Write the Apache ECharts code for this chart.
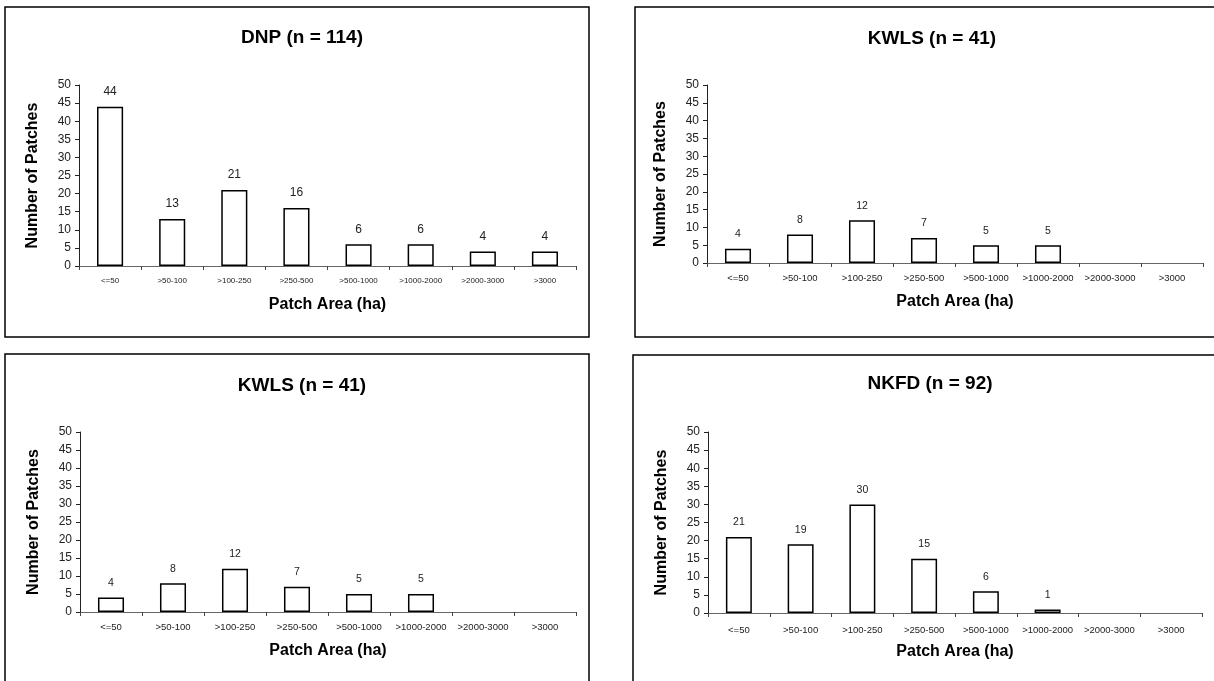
<!DOCTYPE html>
<html>
<head>
<meta charset="utf-8">
<script src="https://cdn.jsdelivr.net/npm/echarts@6/dist/echarts.min.js"></script>
<style>
html,body{margin:0;padding:0;background:#fff;}
#c{width:1214px;height:681px;}
</style>
</head>
<body>
<div id="c"></div>
<script>
// ---- data ----
const categories = ["<=50", ">50-100", ">100-250", ">250-500", ">500-1000", ">1000-2000", ">2000-3000", ">3000"];
const dnpValues  = [44, 13, 21, 16, 6, 6, 4, 4];
const kwlsValues = [4, 8, 12, 7, 5, 5, 0, 0];
const nkfdValues = [21, 19, 30, 15, 6, 1, 0, 0];
const panelTitles = ["DNP (n = 114)", "KWLS (n = 41)", "KWLS (n = 41)", "NKFD (n = 92)"];
const yTicks = [0, 5, 10, 15, 20, 25, 30, 35, 40, 45, 50];
const xAxisTitle = "Patch Area (ha)";
const yAxisTitle = "Number of Patches";

const panelSeries = [dnpValues, kwlsValues, kwlsValues, nkfdValues];

// ---- layout (pixels) ----
const FONT = "Arial, 'Liberation Sans', Helvetica, sans-serif";
const panels = [
  {box:[5,7,584,330],  grid:{left:79, right:638, top:85,  bottom:415}, titleX:297, titleY:23, catFont:8,   valFont:12,   labMargin:11},
  {box:[635,7,590,330],grid:{left:707,right:11,  top:85,  bottom:418}, titleX:927, titleY:24, catFont:9.5, valFont:10.5, labMargin:10},
  {box:[5,354,584,340],grid:{left:80, right:638, top:432, bottom:69},  titleX:297, titleY:371,catFont:9.5, valFont:10.5, labMargin:10},
  {box:[633,355,590,340],grid:{left:708,right:12,top:432, bottom:68},  titleX:925, titleY:369,catFont:9.5, valFont:10.5, labMargin:12}
];

const chart = echarts.init(document.getElementById('c'), null, {renderer:'canvas'});

const option = {
  backgroundColor:'#ffffff',
  animation:false,
  title: panels.map((p,i)=>({
    text: panelTitles[i],
    left: p.titleX, top: p.titleY,
    textAlign:'center',
    textStyle:{fontFamily:FONT, fontSize:19, fontWeight:'bold', color:'#000'}
  })),
  graphic: panels.map(p=>({
    type:'rect', silent:true, z:-1,
    shape:{x:p.box[0], y:p.box[1], width:p.box[2], height:p.box[3]},
    style:{fill:'none', stroke:'#000', lineWidth:1.5}
  })),
  grid: panels.map(p=>Object.assign({containLabel:false}, p.grid)),
  xAxis: panels.map((p,i)=>({
    type:'category', gridIndex:i, data:categories, boundaryGap:true,
    name:xAxisTitle, nameLocation:'middle', nameGap:31,
    nameTextStyle:{fontFamily:FONT, fontSize:16, fontWeight:'bold', color:'#000'},
    axisLine:{lineStyle:{color:'#666', width:1}},
    axisTick:{show:true, alignWithLabel:false, length:4, lineStyle:{color:'#444'}},
    axisLabel:{fontFamily:FONT, fontSize:p.catFont, color:'#222', margin:p.labMargin, interval:0},
    splitLine:{show:false}
  })),
  yAxis: panels.map((p,i)=>({
    type:'value', gridIndex:i, min:yTicks[0], max:yTicks[yTicks.length-1], interval:yTicks[1]-yTicks[0],
    name:yAxisTitle, nameLocation:'middle', nameGap:38, nameRotate:90,
    nameTextStyle:{fontFamily:FONT, fontSize:16, fontWeight:'bold', color:'#000'},
    axisLine:{show:true, lineStyle:{color:'#222', width:1}},
    axisTick:{show:true, length:4, lineStyle:{color:'#222'}},
    axisLabel:{fontFamily:FONT, fontSize:12, color:'#222', margin:8},
    splitLine:{show:false}
  })),
  series: panels.map((p,i)=>({
    type:'bar', xAxisIndex:i, yAxisIndex:i,
    data: panelSeries[i].map(v => v === 0 ? null : v),
    barWidth:'42%',
    itemStyle:{color:'#ffffff', borderColor:'#000', borderWidth:1.5},
    label:{show:true, position:'top', distance:9, fontFamily:FONT, fontSize:p.valFont, color:'#222'}
  }))
};
chart.setOption(option);
</script>
</body>
</html>
